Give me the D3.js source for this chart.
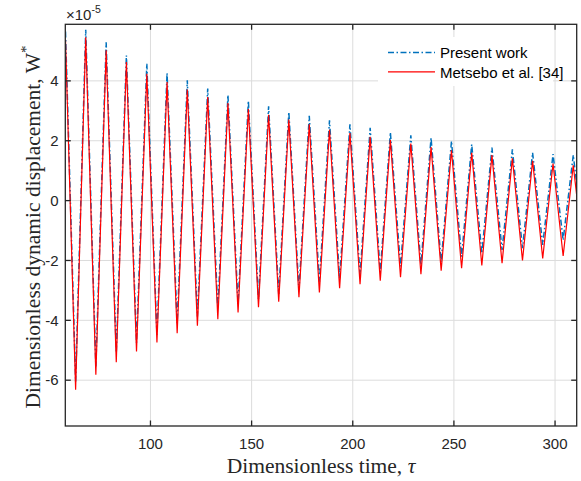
<!DOCTYPE html>
<html>
<head>
<meta charset="utf-8">
<script src="https://cdn.jsdelivr.net/npm/d3@7"></script>
<style>
  body { margin: 0; background: #fff; }
  svg { display: block; }
</style>
</head>
<body>
<svg id="chart" width="581" height="481"></svg>
<script>
// peak / trough times (tau) and values (x 1e-5)
const peakTimes = [58.0, 68.0, 78.1, 88.1, 98.2, 108.2, 118.2, 128.3, 138.3, 148.4, 158.4, 168.4, 178.5,
                   188.5, 198.6, 208.6, 218.6, 228.7, 238.7, 248.8, 258.8, 268.8, 278.9, 288.9, 299.0, 309.0]
const troughTimes = [63.0, 73.0, 83.1, 93.1, 103.2, 113.2, 123.2, 133.3, 143.3, 153.4, 163.4, 173.4, 183.5,
                     193.5, 203.6, 213.6, 223.6, 233.7, 243.7, 253.8, 263.8, 273.8, 283.9, 293.9, 304.0, 314.0]

const presentPeaks = [5.65, 5.71, 5.29, 4.85, 4.57, 4.26, 4.02, 3.74, 3.52, 3.33, 3.15, 2.96, 2.83,
                      2.68, 2.55, 2.43, 2.28, 2.18, 2.10, 1.99, 1.88, 1.77, 1.71, 1.60, 1.55, 1.52]
const presentTroughs = [-6.04, -5.54, -5.08, -4.75, -4.48, -4.10, -3.87, -3.60, -3.45, -3.30, -3.12, -2.98, -2.71,
                        -2.60, -2.48, -2.38, -2.20, -2.15, -2.05, -1.87, -1.76, -1.65, -1.59, -1.48, -1.32, -1.30]

const metseboPeaks = [5.37, 5.46, 5.02, 4.63, 4.24, 3.96, 3.71, 3.46, 3.26, 3.06, 2.87, 2.71, 2.55,
                      2.37, 2.26, 2.13, 2.02, 1.91, 1.79, 1.68, 1.60, 1.52, 1.41, 1.33, 1.24, 1.18]
const metseboTroughs = [-6.32, -5.82, -5.40, -5.04, -4.74, -4.43, -4.18, -3.96, -3.74, -3.56, -3.38, -3.23, -3.07,
                        -2.93, -2.79, -2.68, -2.56, -2.46, -2.34, -2.26, -2.17, -2.09, -2.00, -1.93, -1.85, -1.80]

const xTicks = [100, 150, 200, 250, 300]
const yTicks = [-6, -4, -2, 0, 2, 4]
const legendLabels = ["Present work", "Metsebo et al. [34]"]

const svg = d3.select("#chart")
const pLeft = 65.3, pRight = 576.7, pTop = 24.3, pBottom = 426
const axisColor = "#262626"

const x = d3.scaleLinear().domain([57.9, 310.7]).range([pLeft, pRight])
const y = d3.scaleLinear().domain([-7.53, 5.89]).range([pBottom, pTop])

function zigzag(peaks, troughs) {
    let pts = []
    peakTimes.forEach((t, i) => {
        pts.push({t: t, v: peaks[i]})
        pts.push({t: troughTimes[i], v: troughs[i]})
    })
    return pts
}

svg.append("defs").append("clipPath").attr("id", "clip")
    .append("rect").attr("x", pLeft).attr("y", pTop)
    .attr("width", pRight - pLeft).attr("height", pBottom - pTop)

// grid
const grid = svg.append("g").attr("stroke", "#dcdcdc").attr("stroke-width", 1)
xTicks.forEach(t => grid.append("line")
    .attr("x1", x(t)).attr("x2", x(t)).attr("y1", pTop).attr("y2", pBottom))
yTicks.forEach(t => grid.append("line")
    .attr("x1", pLeft).attr("x2", pRight).attr("y1", y(t)).attr("y2", y(t)))

// series
const line = d3.line().x(d => x(d.t)).y(d => y(d.v))
const plot = svg.append("g").attr("clip-path", "url(#clip)")

plot.append("path")
    .datum(zigzag(presentPeaks, presentTroughs))
    .attr("fill", "none")
    .attr("stroke", "#0072BD")
    .attr("stroke-width", 1.5)
    .attr("stroke-dasharray", "6,2.5,1.5,2.5")
    .attr("d", line)

plot.append("path")
    .datum(zigzag(metseboPeaks, metseboTroughs))
    .attr("fill", "none")
    .attr("stroke", "#FF0000")
    .attr("stroke-width", 1.2)
    .attr("d", line)

// legend (white background, no border)
svg.append("rect").attr("x", 378).attr("y", 37).attr("width", 175).attr("height", 49).attr("fill", "#fff")
const lg = svg.append("g").attr("font-family", "Liberation Sans, Arial, sans-serif").attr("font-size", 15)
lg.append("line").attr("x1", 388).attr("x2", 435).attr("y1", 52.5).attr("y2", 52.5)
    .attr("stroke", "#0072BD").attr("stroke-width", 1.5).attr("stroke-dasharray", "6,2.5,1.5,2.5")
lg.append("line").attr("x1", 388).attr("x2", 435).attr("y1", 71.8).attr("y2", 71.8)
    .attr("stroke", "#FF0000").attr("stroke-width", 1.2)
lg.append("text").attr("x", 440).attr("y", 58).text(legendLabels[0])
lg.append("text").attr("x", 440).attr("y", 77.5).text(legendLabels[1])

// axes box with inward ticks
const ax = svg.append("g").attr("stroke", axisColor).attr("stroke-width", 1.3)
ax.append("rect").attr("x", pLeft).attr("y", pTop).attr("width", pRight - pLeft).attr("height", pBottom - pTop)
    .attr("fill", "none")
xTicks.forEach(t => {
    ax.append("line").attr("x1", x(t)).attr("x2", x(t)).attr("y1", pBottom).attr("y2", pBottom - 5.5)
    ax.append("line").attr("x1", x(t)).attr("x2", x(t)).attr("y1", pTop).attr("y2", pTop + 5.5)
})
yTicks.forEach(t => {
    ax.append("line").attr("x1", pLeft).attr("x2", pLeft + 5.5).attr("y1", y(t)).attr("y2", y(t))
    ax.append("line").attr("x1", pRight).attr("x2", pRight - 5.5).attr("y1", y(t)).attr("y2", y(t))
})

// tick labels
const tl = svg.append("g").attr("font-family", "Liberation Sans, Arial, sans-serif")
    .attr("font-size", 15).attr("fill", axisColor)
xTicks.forEach(t => tl.append("text").attr("x", x(t)).attr("y", 448.5)
    .attr("text-anchor", "middle").text(t))
yTicks.forEach(t => tl.append("text").attr("x", 58.5).attr("y", y(t) + 5.2)
    .attr("text-anchor", "end").text(t))

const expo = tl.append("text").attr("x", 66).attr("y", 20)
expo.append("tspan").text("\u00d710")
expo.append("tspan").attr("font-size", 10.5).attr("dy", -7).text("-5")

// axis titles
svg.append("text")
    .attr("x", 321).attr("y", 473)
    .attr("text-anchor", "middle")
    .attr("font-family", "Liberation Serif, Times New Roman, serif")
    .attr("font-size", 21.5).attr("fill", axisColor)
    .call(t => {
        t.append("tspan").text("Dimensionless time, ")
        t.append("tspan").attr("font-style", "italic").text("\u03c4")
    })

svg.append("text")
    .attr("transform", "translate(40,227) rotate(-90)")
    .attr("text-anchor", "middle")
    .attr("font-family", "Liberation Serif, Times New Roman, serif")
    .attr("font-size", 21.5).attr("fill", axisColor)
    .call(t => {
        t.append("tspan").text("Dimensionless dynamic displacement, W")
        t.append("tspan").attr("font-size", 15).attr("dy", -9).text("*")
    })
</script>
</body>
</html>
